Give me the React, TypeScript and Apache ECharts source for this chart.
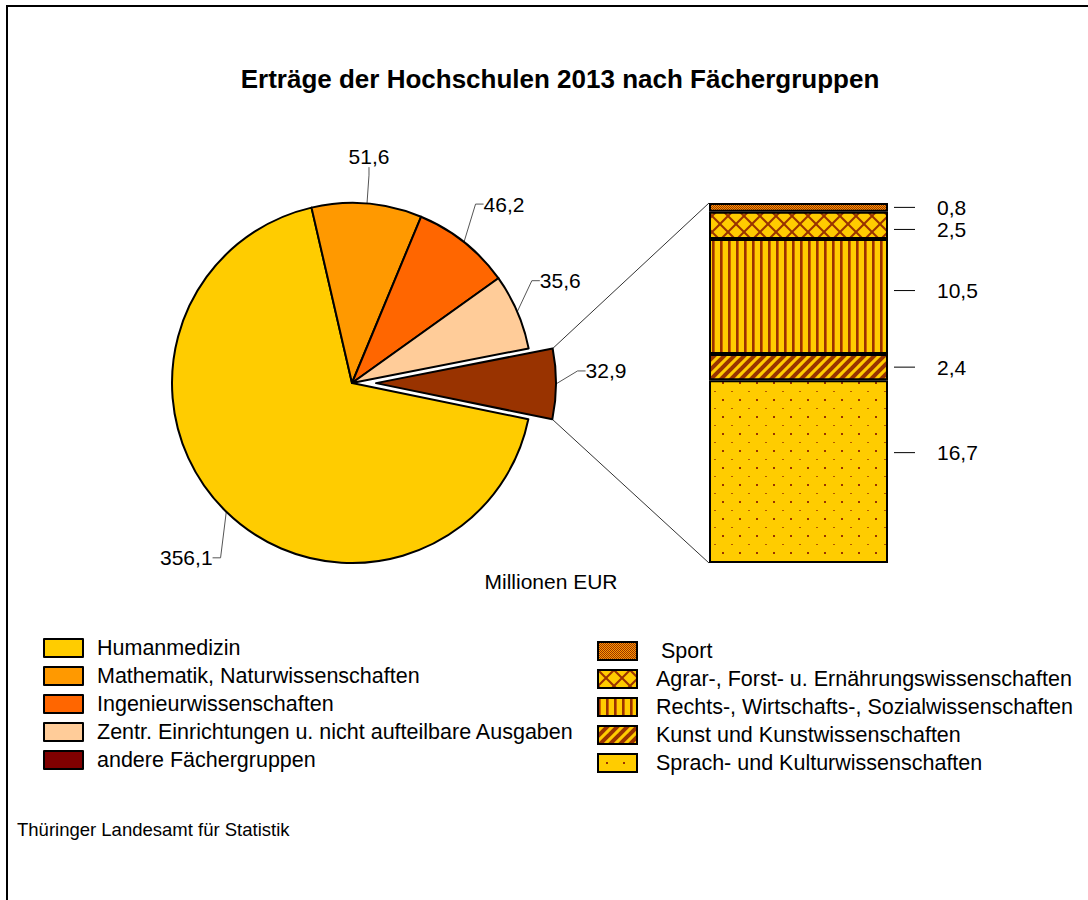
import React, { useEffect, useRef } from 'react';
import * as echarts from 'echarts';

const pieCategories = [
  'Humanmedizin',
  'Mathematik, Naturwissenschaften',
  'Ingenieurwissenschaften',
  'Zentr. Einrichtungen u. nicht aufteilbare Ausgaben',
  'andere Fächergruppen',
];
const pieValues = [356.1, 51.6, 46.2, 35.6, 32.9];

const barCategories = [
  'Sport',
  'Agrar-, Forst- u. Ernährungswissenschaften',
  'Rechts-, Wirtschafts-, Sozialwissenschaften',
  'Kunst und Kunstwissenschaften',
  'Sprach- und Kulturwissenschaften',
];
const barValues = [0.8, 2.5, 10.5, 2.4, 16.7];

const titleText = 'Erträge der Hochschulen 2013 nach Fächergruppen';
const unitText = 'Millionen EUR';
const sourceText = 'Thüringer Landesamt für Statistik';

const FONT = "'Liberation Sans', Arial, sans-serif";
const YELLOW = '#FFCC00';
const DARK = '#993300';
const NONE = 'rgba(0,0,0,0)';

function makePattern(w: number, h: number, draw: (ctx: CanvasRenderingContext2D) => void) {
  const c = document.createElement('canvas');
  c.width = w;
  c.height = h;
  const ctx = c.getContext('2d') as CanvasRenderingContext2D;
  draw(ctx);
  return { image: c, repeat: 'repeat', imageWidth: w, imageHeight: h } as any;
}

function buildPatterns() {
  const sport = makePattern(2, 2, (ctx) => {
    ctx.fillStyle = '#FF9900';
    ctx.fillRect(0, 0, 2, 2);
    ctx.fillStyle = DARK;
    ctx.fillRect(0, 0, 1, 1);
    ctx.fillRect(1, 1, 1, 1);
  });
  const agrar = makePattern(16, 16, (ctx) => {
    ctx.fillStyle = YELLOW;
    ctx.fillRect(0, 0, 16, 16);
    ctx.strokeStyle = DARK;
    ctx.lineWidth = 2;
    for (let k = -16; k <= 16; k += 16) {
      ctx.beginPath();
      ctx.moveTo(-4 + k, -4);
      ctx.lineTo(20 + k, 20);
      ctx.stroke();
      ctx.beginPath();
      ctx.moveTo(20 + k, -4);
      ctx.lineTo(-4 + k, 20);
      ctx.stroke();
    }
  });
  const rechts = makePattern(8, 4, (ctx) => {
    ctx.fillStyle = YELLOW;
    ctx.fillRect(0, 0, 8, 4);
    ctx.fillStyle = DARK;
    ctx.fillRect(0, 0, 2, 4);
    ctx.fillStyle = '#CC6600';
    ctx.fillRect(2, 0, 1, 4);
  });
  const kunst = makePattern(10, 10, (ctx) => {
    ctx.fillStyle = YELLOW;
    ctx.fillRect(0, 0, 10, 10);
    ctx.strokeStyle = DARK;
    ctx.lineWidth = 4;
    for (let c = 0; c <= 20; c += 10) {
      ctx.beginPath();
      ctx.moveTo(c + 2, -2);
      ctx.lineTo(-2, c + 2);
      ctx.stroke();
    }
  });
  const sprach = makePattern(17, 17, (ctx) => {
    ctx.fillStyle = YELLOW;
    ctx.fillRect(0, 0, 17, 17);
    ctx.fillStyle = '#B35900';
    ctx.fillRect(0, 0, 2, 1);
    ctx.fillStyle = DARK;
    ctx.fillRect(8, 8, 2, 2);
  });
  return [sport, agrar, rechts, kunst, sprach];
}

const pieColors = ['#FFCC00', '#FF9900', '#FF6600', '#FFCC99', '#993300'];
const fmt = (v: number) => v.toFixed(1).replace('.', ',');

export default function App() {
  const ref = useRef<HTMLDivElement>(null);

  useEffect(() => {
    if (!ref.current) return;
    const chart = echarts.init(ref.current, null, { renderer: 'svg' });
    const patterns = buildPatterns();

    const center = [352, 383];
    const radius = 180;
    const startAngle = 348.4;
    const explode = 24;
    const barLeft = 709;
    const barTop = 203;
    const barWidth = 179;
    const barHeight = 360;
    const explodedIndex = pieValues.length - 1;

    const total = pieValues.reduce((a, b) => a + b, 0);
    const toRad = (d: number) => (d * Math.PI) / 180;

    // slice angles (degrees, counter-clockwise from +x); slices run clockwise
    const sliceAngles: [number, number][] = [];
    let acc = 0;
    pieValues.forEach((v) => {
      const s = startAngle - (acc / total) * 360;
      acc += v;
      const e = startAngle - (acc / total) * 360;
      sliceAngles.push([s, e]);
    });
    const [sa, ea] = sliceAngles[explodedIndex];
    const mid = toRad((sa + ea) / 2);
    const exCenter = [center[0] + explode * Math.cos(mid), center[1] - explode * Math.sin(mid)];

    const arcPoint = (i: number) => {
      const [s, e] = sliceAngles[i];
      const m = toRad((s + e) / 2);
      const c = i === explodedIndex ? exCenter : center;
      return [c[0] + radius * Math.cos(m), c[1] - radius * Math.sin(m)];
    };

    // label displacement from the slice's arc midpoint
    const labelShift = [[-40, 46], [2, -47], [40, -38], [43, -31], [50, -13]];

    const p1 = [exCenter[0] + radius * Math.cos(toRad(sa)), exCenter[1] - radius * Math.sin(toRad(sa))];
    const p2 = [exCenter[0] + radius * Math.cos(toRad(ea)), exCenter[1] - radius * Math.sin(toRad(ea))];

    const labelOffsets = [[0, 0], [0, 4], [0, -6], [0, 0], [0, -19]];
    const barTotal = barValues.reduce((a, b) => a + b, 0);

    const barSeries = barCategories
      .map((name, i) => ({
        type: 'bar',
        name,
        stack: 'total',
        data: [barValues[i]],
        barWidth: '100%',
        itemStyle: { color: patterns[i], borderColor: '#000', borderWidth: 2 },
        emphasis: { disabled: true },
        label: {
          show: true,
          position: 'right',
          distance: 6,
          offset: labelOffsets[i],
          formatter: `{l|}{v|${fmt(barValues[i])}}`,
          rich: {
            l: { width: 21, height: 1, backgroundColor: '#000' },
            v: { fontSize: 21, fontFamily: FONT, color: '#000', padding: [0, 0, 0, 22] },
          },
        },
      }))
      .reverse();

    const legendText = { fontSize: 21.5, lineHeight: 24, fontFamily: FONT, color: '#000' };

    const pieLabel = {
      show: true,
      fontSize: 21,
      fontFamily: FONT,
      color: '#000',
      formatter: (p: any) => fmt(p.value),
    };
    const pieLabelLine = {
      show: true,
      length: 15,
      length2: 8,
      minTurnAngle: 60,
      lineStyle: { color: '#555', width: 1 },
    };
    const hidden = {
      itemStyle: { color: NONE, borderWidth: 0 },
      label: { show: false },
      labelLine: { show: false },
    };

    const mainPieData = pieCategories.map((name, i) =>
      i === explodedIndex
        ? { name, value: pieValues[i], ...hidden }
        : { name, value: pieValues[i], itemStyle: { color: pieColors[i] } }
    );
    const restValue = pieValues.slice(0, explodedIndex).reduce((a, b) => a + b, 0);
    const explodedPieData = [
      { name: '', value: restValue, ...hidden },
      { name: pieCategories[explodedIndex], value: pieValues[explodedIndex], itemStyle: { color: pieColors[explodedIndex] } },
    ];

    const option: any = {
      animation: false,
      title: {
        text: titleText,
        left: 560,
        top: 66,
        textAlign: 'center',
        padding: 0,
        textStyle: { fontSize: 26, fontWeight: 'bold', fontFamily: FONT, color: '#000' },
      },
      grid: { left: barLeft, top: barTop, width: barWidth, height: barHeight },
      xAxis: { type: 'category', data: [''], show: false },
      yAxis: { type: 'value', min: 0, max: barTotal, show: false },
      legend: [
        {
          orient: 'vertical',
          left: 43,
          top: 636,
          padding: 0,
          icon: 'rect',
          itemWidth: 39,
          itemHeight: 18,
          itemGap: 4,
          selectedMode: false,
          itemStyle: { borderColor: '#000', borderWidth: 2 },
          textStyle: { ...legendText, padding: [0, 0, 0, 9] },
          data: pieCategories.map((n, i) =>
            i === explodedIndex ? { name: n, itemStyle: { color: '#800000' } } : { name: n }
          ),
        },
        {
          orient: 'vertical',
          left: 597,
          top: 639,
          padding: 0,
          icon: 'rect',
          itemWidth: 39,
          itemHeight: 18,
          itemGap: 4,
          selectedMode: false,
          itemStyle: { borderColor: '#000', borderWidth: 2 },
          textStyle: { ...legendText, padding: [0, 0, 0, 14] },
          data: barCategories.map((n, i) =>
            i === 0 ? { name: n, textStyle: { padding: [0, 0, 0, 19] } } : { name: n }
          ),
        },
      ],
      series: [
        {
          type: 'pie',
          center,
          radius,
          startAngle,
          clockwise: true,
          avoidLabelOverlap: false,
          emphasis: { disabled: true },
          itemStyle: { borderColor: '#000', borderWidth: 2 },
          label: pieLabel,
          labelLine: pieLabelLine,
          labelLayout: (params: any) => {
            const i = params.dataIndex;
            if (i === explodedIndex) return {};
            const a = arcPoint(i);
            return { x: a[0] + labelShift[i][0], y: a[1] + labelShift[i][1], align: 'center', verticalAlign: 'middle' };
          },
          data: mainPieData,
        },
        {
          type: 'pie',
          center: exCenter,
          radius,
          startAngle,
          clockwise: true,
          silent: true,
          avoidLabelOverlap: false,
          emphasis: { disabled: true },
          itemStyle: { borderColor: '#000', borderWidth: 2 },
          label: pieLabel,
          labelLine: pieLabelLine,
          labelLayout: (params: any) => {
            if (params.dataIndex !== 1) return {};
            const a = arcPoint(explodedIndex);
            const s = labelShift[explodedIndex];
            return { x: a[0] + s[0], y: a[1] + s[1], align: 'center', verticalAlign: 'middle' };
          },
          data: explodedPieData,
        },
        ...barSeries,
      ],
      graphic: [
        {
          type: 'rect',
          shape: { x: 7, y: 6, width: 1300, height: 1300 },
          style: { fill: 'none', stroke: '#000', lineWidth: 2 },
          silent: true,
        },
        {
          type: 'line',
          shape: { x1: p1[0], y1: p1[1], x2: barLeft, y2: barTop },
          style: { stroke: '#333', lineWidth: 1 },
          silent: true,
        },
        {
          type: 'line',
          shape: { x1: p2[0], y1: p2[1], x2: barLeft, y2: barTop + barHeight },
          style: { stroke: '#333', lineWidth: 1 },
          silent: true,
        },
        {
          type: 'text',
          x: 551,
          y: 581,
          style: { text: unitText, fontSize: 21, fontFamily: FONT, fill: '#000', align: 'center', verticalAlign: 'middle' },
          silent: true,
        },
        {
          type: 'text',
          x: 17,
          y: 829,
          style: { text: sourceText, fontSize: 18.5, fontFamily: FONT, fill: '#000', align: 'left', verticalAlign: 'middle' },
          silent: true,
        },
      ],
    };

    chart.setOption(option);
    return () => chart.dispose();
  }, []);

  return (
    <div
      ref={ref}
      style={{ position: 'absolute', left: 0, top: 0, width: 1088, height: 900, background: '#fff' }}
    />
  );
}
